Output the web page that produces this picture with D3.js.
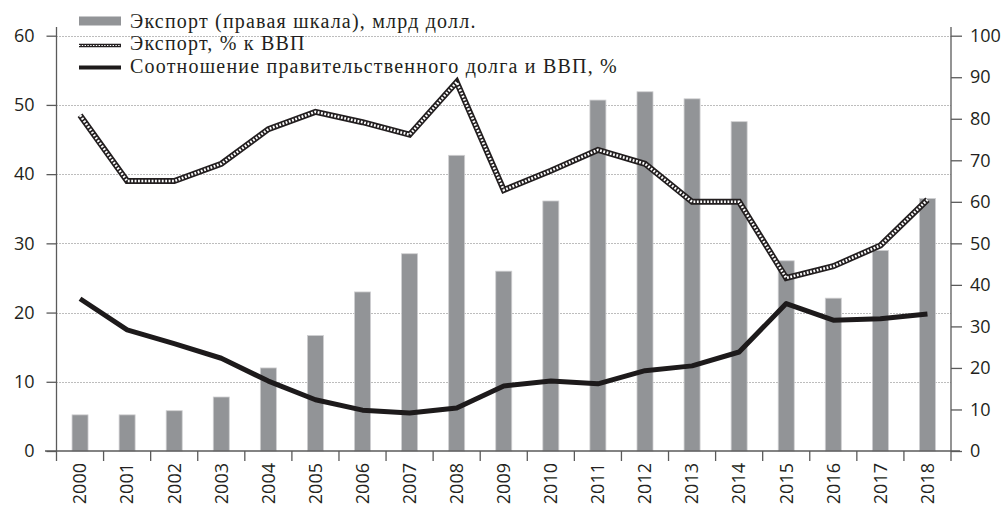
<!DOCTYPE html>
<html>
<head>
<meta charset="utf-8">
<script src="https://cdn.jsdelivr.net/npm/d3@7"></script>
<style>
  body { margin: 0; background: #fff; }
  .tick text { font-family: "Open Sans", sans-serif; font-size: 18px; fill: #231f20; }
  .legend text { font-family: "Liberation Serif", serif; font-size: 20px; letter-spacing: 1.2px; fill: #231f20; }
</style>
</head>
<body>
<svg id="chart"></svg>
<script>
const width = 1003, height = 507;

const years = ["2000", "2001", "2002", "2003", "2004", "2005", "2006", "2007", "2008", "2009",
               "2010", "2011", "2012", "2013", "2014", "2015", "2016", "2017", "2018"];
// Экспорт, млрд долл. (правая шкала)
const exportBn = [8.7, 8.7, 9.7, 13, 20, 27.8, 38.3, 47.5, 71.2, 43.3,
                  60.2, 84.5, 86.5, 84.8, 79.3, 45.8, 36.8, 48.3, 60.8];
// Экспорт, % к ВВП (левая шкала)
const exportPctGdp = [48.5, 39, 39, 41.5, 46.5, 49, 47.5, 45.7, 53.3, 37.7,
                      40.5, 43.5, 41.5, 36, 36, 25, 26.7, 29.7, 36.3];
// Соотношение правительственного долга и ВВП, % (левая шкала)
const debtPctGdp = [22, 17.5, 15.5, 13.4, 10.1, 7.4, 5.9, 5.5, 6.2, 9.4,
                    10.1, 9.7, 11.6, 12.3, 14.3, 21.3, 18.9, 19.1, 19.8];

const leftTicks = [0, 10, 20, 30, 40, 50, 60];
const rightTicks = [0, 10, 20, 30, 40, 50, 60, 70, 80, 90, 100];
const legendLabels = ["Экспорт (правая шкала), млрд долл.",
                      "Экспорт, % к ВВП",
                      "Соотношение правительственного долга и ВВП, %"];

const x0 = 56.5, x1 = 951, yTop = 35.7, yBottom = 451;

const x = d3.scaleBand()
            .domain(years)
            .range([x0, x1])
            .paddingInner(0.66)
            .paddingOuter(0.33);

const yLeft = d3.scaleLinear().domain([0, 60]).range([yBottom, yTop]);
const yRight = d3.scaleLinear().domain([0, 100]).range([yBottom, yTop]);

const svg = d3.select("#chart")
              .attr("width", width)
              .attr("height", height);

const axisColor = "#5a5a5a";

// gridlines
svg.append("g")
   .selectAll("line")
   .data(leftTicks.slice(1))
   .enter()
   .append("line")
   .attr("x1", x0)
   .attr("x2", x1)
   .attr("y1", d => Math.round(yLeft(d)) + 0.5)
   .attr("y2", d => Math.round(yLeft(d)) + 0.5)
   .attr("stroke", "#7a7a7a")
   .attr("stroke-width", 1)
   .attr("stroke-dasharray", "1,2");

// bars
svg.append("g")
   .selectAll("rect")
   .data(years)
   .enter()
   .append("rect")
   .attr("x", d => x(d))
   .attr("width", x.bandwidth())
   .attr("y", (d, i) => yRight(exportBn[i]))
   .attr("height", (d, i) => yBottom - yRight(exportBn[i]))
   .attr("fill", "#929497")
   .attr("stroke", "#cfcfd1")
   .attr("stroke-width", 0.8);

const center = d => x(d) + x.bandwidth() / 2;

// export % GDP line (double line style)
const exportLine = d3.line()
                     .x(d => center(d))
                     .y((d, i) => yLeft(exportPctGdp[i]));
svg.append("path")
   .datum(years)
   .attr("d", exportLine)
   .attr("fill", "none")
   .attr("stroke", "#231f20")
   .attr("stroke-width", 6)
   .attr("stroke-linejoin", "miter");
svg.append("path")
   .datum(years)
   .attr("d", exportLine)
   .attr("fill", "none")
   .attr("stroke", "#fff")
   .attr("stroke-width", 2.6)
   .attr("stroke-dasharray", "1.8,1.6");

// debt line
const debtLine = d3.line()
                   .x(d => center(d))
                   .y((d, i) => yLeft(debtPctGdp[i]));
svg.append("path")
   .datum(years)
   .attr("d", debtLine)
   .attr("fill", "none")
   .attr("stroke", "#1d1a1b")
   .attr("stroke-width", 5)
   .attr("stroke-linejoin", "round");

// left axis
const leftAxis = svg.append("g")
   .attr("transform", `translate(${x0},0)`)
   .call(d3.axisLeft(yLeft).tickValues(leftTicks).tickSize(10).tickPadding(12));
leftAxis.select(".domain").remove();
leftAxis.selectAll("line").attr("stroke", axisColor).attr("stroke-width", 1.3);
svg.append("line")
   .attr("x1", x0).attr("x2", x0)
   .attr("y1", 27).attr("y2", yBottom)
   .attr("stroke", axisColor).attr("stroke-width", 1.3);

// right axis
const rightAxis = svg.append("g")
   .attr("transform", `translate(${x1},0)`)
   .call(d3.axisRight(yRight).tickValues(rightTicks).tickSize(11).tickPadding(8));
rightAxis.select(".domain").remove();
rightAxis.selectAll("line").attr("stroke", axisColor).attr("stroke-width", 1.3);
svg.append("line")
   .attr("x1", x1).attr("x2", x1)
   .attr("y1", 27).attr("y2", yBottom)
   .attr("stroke", axisColor).attr("stroke-width", 1.3);

// x axis
svg.append("line")
   .attr("x1", 45).attr("x2", 960)
   .attr("y1", yBottom).attr("y2", yBottom)
   .attr("stroke", axisColor).attr("stroke-width", 1.3);
svg.append("g")
   .selectAll("line")
   .data(years.concat(["end"]))
   .enter()
   .append("line")
   .attr("x1", (d, i) => x0 + i * x.step())
   .attr("x2", (d, i) => x0 + i * x.step())
   .attr("y1", yBottom)
   .attr("y2", yBottom + 10)
   .attr("stroke", axisColor)
   .attr("stroke-width", 1.3);

const xAxis = svg.append("g")
   .attr("transform", `translate(0,${yBottom})`)
   .call(d3.axisBottom(x).tickSize(0));
xAxis.select(".domain").remove();
xAxis.selectAll("text")
     .attr("transform", "rotate(-90)")
     .attr("x", -12)
     .attr("y", 0)
     .attr("dy", "0.35em")
     .style("text-anchor", "end");

// legend
const legend = svg.append("g").attr("class", "legend");
const swatchY = [21, 45.5, 67.5];
const baseY = [27.7, 50.3, 72.7];
legend.append("rect")
      .attr("x", 79).attr("y", swatchY[0] - 4.5)
      .attr("width", 42).attr("height", 9)
      .attr("fill", "#929497");
legend.append("line")
      .attr("x1", 79).attr("x2", 121)
      .attr("y1", swatchY[1]).attr("y2", swatchY[1])
      .attr("stroke", "#231f20").attr("stroke-width", 3.5);
legend.append("line")
      .attr("x1", 79).attr("x2", 121)
      .attr("y1", swatchY[1]).attr("y2", swatchY[1])
      .attr("stroke", "#fff").attr("stroke-width", 1.2)
      .attr("stroke-dasharray", "1.4,1.4");
legend.append("line")
      .attr("x1", 79).attr("x2", 121)
      .attr("y1", swatchY[2]).attr("y2", swatchY[2])
      .attr("stroke", "#1d1a1b").attr("stroke-width", 4);
legend.selectAll("text")
      .data(legendLabels)
      .enter()
      .append("text")
      .attr("x", 130)
      .attr("y", (d, i) => baseY[i])
      .text(d => d);
</script>
</body>
</html>
